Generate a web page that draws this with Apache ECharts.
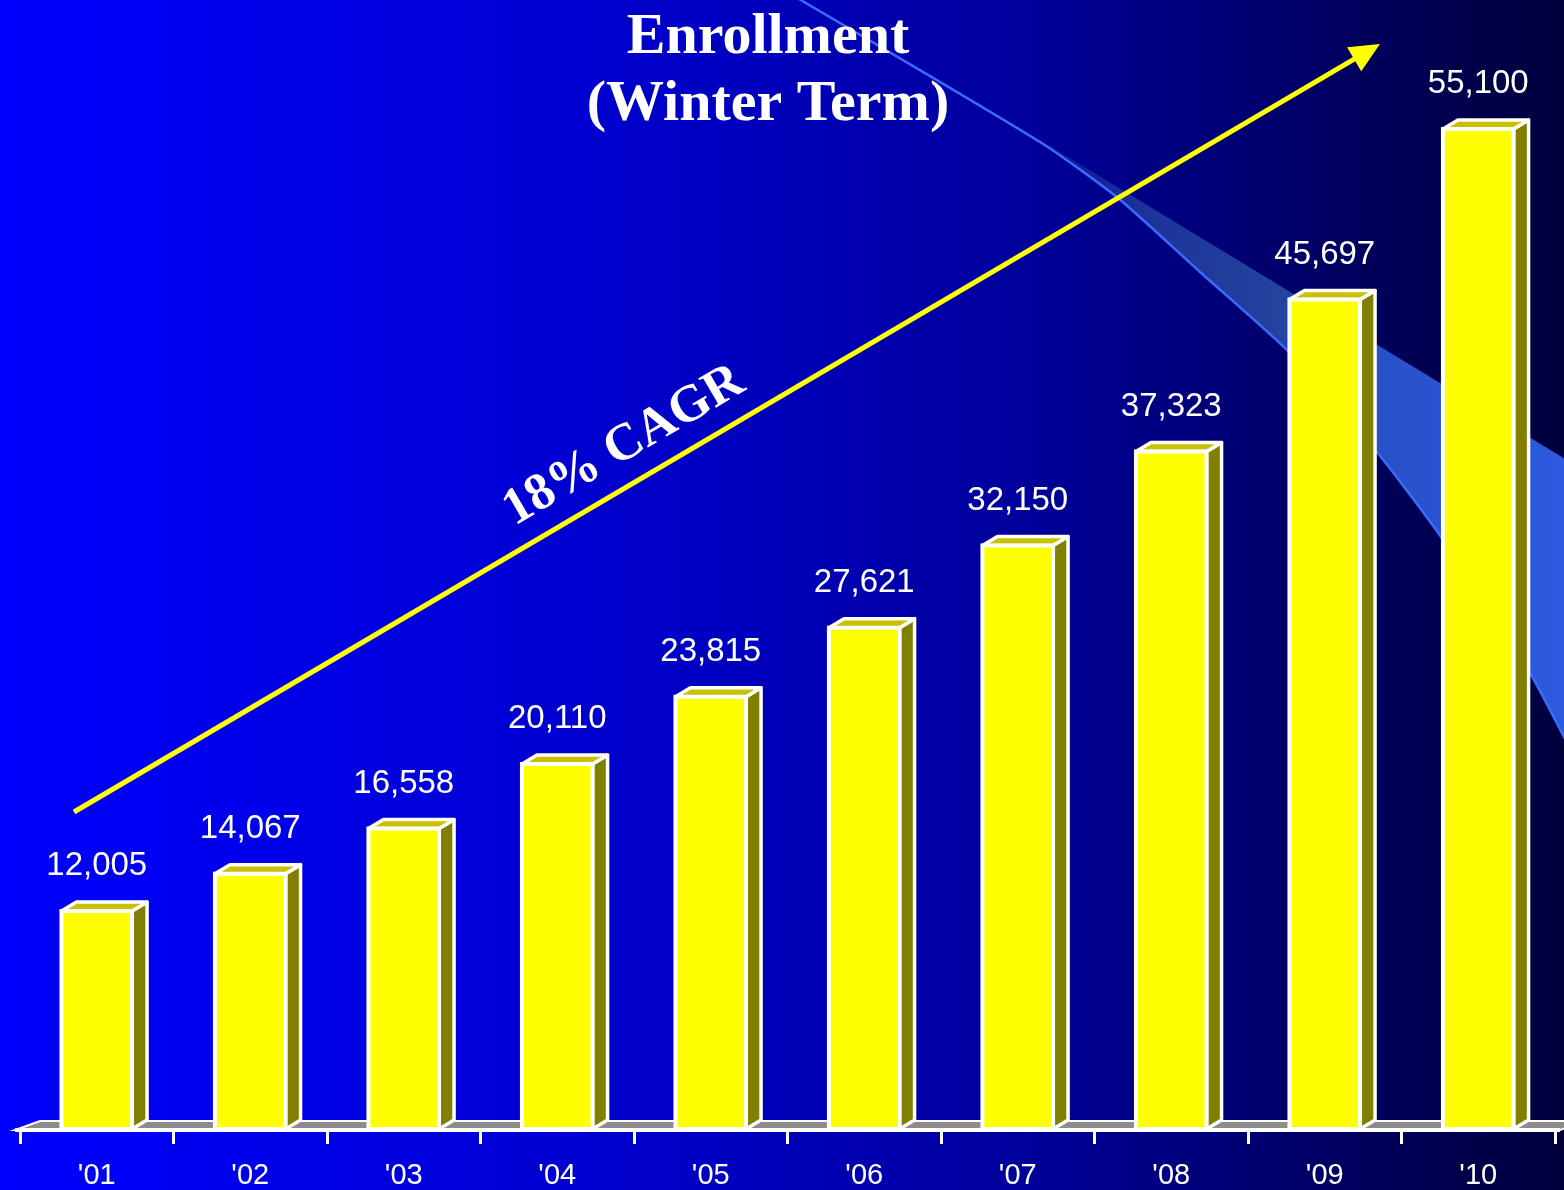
<!DOCTYPE html>
<html>
<head>
<meta charset="utf-8">
<title>Enrollment (Winter Term)</title>
<script src="https://cdn.jsdelivr.net/npm/echarts@6/dist/echarts.min.js"></script>
<style>
  html, body { margin: 0; padding: 0; background: #0000c0; }
  #chart { width: 1564px; height: 1190px; }
</style>
</head>
<body>
<div id="chart"></div>
<script>
// School years and winter-term enrollment counts
const years = ["'01", "'02", "'03", "'04", "'05", "'06", "'07", "'08", "'09", "'10"];
const enrollment = [12005, 14067, 16558, 20110, 23815, 27621, 32150, 37323, 45697, 55100];
const growthLabel = '18% CAGR';

const chart = echarts.init(document.getElementById('chart'), null, { renderer: 'canvas' });

const fmt = v => Number(v).toLocaleString('en-US');

// 3-D column: front face, right side and top face, with a white edge
const DX = 15, DY = -9;
function renderBar(params, api) {
  const i = api.value(0);
  const v = api.value(1);
  const top = api.coord([i, v]);
  const base = api.coord([i, 0]);
  const w = api.size([1, 0])[0] * 0.46;
  const xl = top[0] - w / 2, xr = top[0] + w / 2;
  const edge = { stroke: '#ffffff', lineWidth: 3.5, lineJoin: 'round' };
  return {
    type: 'group',
    children: [
      { type: 'polygon',
        shape: { points: [[xr, top[1]], [xr + DX, top[1] + DY], [xr + DX, base[1] + DY], [xr, base[1]]] },
        style: Object.assign({ fill: '#807f00' }, edge) },
      { type: 'polygon',
        shape: { points: [[xl, top[1]], [xl + DX, top[1] + DY], [xr + DX, top[1] + DY], [xr, top[1]]] },
        style: Object.assign({ fill: '#c8c000' }, edge) },
      { type: 'rect',
        shape: { x: xl, y: top[1], width: w, height: base[1] - top[1] },
        style: { fill: '#ffff00', stroke: '#ffffff', lineWidth: 4 } },
      { type: 'text',
        x: top[0], y: top[1] - 45,
        style: { text: fmt(v), fill: '#ffffff', font: '33px "Liberation Sans", Arial, sans-serif',
                 align: 'center', verticalAlign: 'middle' } }
    ]
  };
}

// decorative swoosh in the upper right
const swooshLower = [[1040, 142], [1118, 198], [1200, 272], [1290, 353], [1377, 452],
                     [1441, 537], [1530, 673], [1564, 737], [1590, 790]];
const swooshBand = [[1040, 140], [1590, 474]].concat(swooshLower.slice().reverse());
const swooshLine = [[770, -18]].concat(swooshLower);

// growth arrow
const arrowFrom = [74, 812], arrowTo = [1380, 44];
const ax = arrowTo[0] - arrowFrom[0], ay = arrowTo[1] - arrowFrom[1];
const alen = Math.hypot(ax, ay);
const ux = ax / alen, uy = ay / alen;
const headLen = 30, headHalf = 14;
const hb = [arrowTo[0] - ux * headLen, arrowTo[1] - uy * headLen];
const angle = Math.atan2(-ay, ax);

const option = {
  backgroundColor: {
    type: 'linear', x: 0, y: 0, x2: 1, y2: 0,
    colorStops: [
      { offset: 0, color: '#0000ff' },
      { offset: 0.4, color: '#0000cc' },
      { offset: 0.66, color: '#00009a' },
      { offset: 0.88, color: '#00005a' },
      { offset: 1, color: '#00003c' }
    ]
  },
  animation: false,
  title: {
    text: 'Enrollment\n(Winter Term)',
    left: 768, top: 5, padding: 0,
    textAlign: 'center',
    textStyle: {
      color: '#ffffff', fontSize: 58, fontWeight: 'bold', lineHeight: 67,
      fontFamily: '"Liberation Serif", "Times New Roman", serif'
    }
  },
  grid: { left: 20, right: 9, top: 40, bottom: 60 },
  xAxis: {
    type: 'category',
    data: years,
    axisLine: { show: false },
    axisTick: { show: true, length: 15, lineStyle: { color: '#ffffff', width: 3 } },
    axisLabel: {
      color: '#ffffff', fontSize: 29, margin: 32,
      fontFamily: '"Liberation Sans", Arial, sans-serif'
    },
    splitLine: { show: false }
  },
  yAxis: { type: 'value', min: 0, max: 60000, show: false, splitLine: { show: false } },
  graphic: [
    { type: 'polygon', shape: { points: swooshBand },
      style: { fill: { type: 'linear', x: 0, y: 0, x2: 1, y2: 0, colorStops: [
        { offset: 0, color: 'rgba(40,70,170,0.25)' },
        { offset: 0.2, color: 'rgba(35,65,160,0.8)' },
        { offset: 0.45, color: '#24449f' },
        { offset: 0.62, color: '#2850c8' },
        { offset: 1, color: '#2e5ce2' } ] } } },
    { type: 'polyline', shape: { points: swooshLine, smooth: 0.2 },
      style: { stroke: '#3a6bff', lineWidth: 2.5, fill: null } },
    { type: 'line',
      shape: { x1: arrowFrom[0], y1: arrowFrom[1], x2: hb[0] + ux * 2, y2: hb[1] + uy * 2 },
      style: { stroke: '#ffff00', lineWidth: 5 } },
    { type: 'polygon',
      shape: { points: [arrowTo,
        [hb[0] - uy * headHalf, hb[1] + ux * headHalf],
        [hb[0] + uy * headHalf, hb[1] - ux * headHalf]] },
      style: { fill: '#ffff00' } },
    { type: 'text', x: 624, y: 446, rotation: angle,
      style: { text: growthLabel, fill: '#ffffff', align: 'center', verticalAlign: 'middle',
               font: 'bold 52px "Liberation Serif", "Times New Roman", serif' } },
    // 3-D floor under the columns
    { type: 'polygon', shape: { points: [[15, 1130], [1560, 1130], [1585, 1121], [40, 1121]] },
      style: { fill: '#8c8c8c', stroke: '#ffffff', lineWidth: 2 } },
    { type: 'line', shape: { x1: 15, y1: 1130, x2: 1560, y2: 1130 },
      style: { stroke: '#ffffff', lineWidth: 4 } }
  ],
  series: [{
    type: 'custom',
    name: 'Enrollment',
    renderItem: renderBar,
    data: enrollment.map((v, i) => [i, v]),
    encode: { x: 0, y: 1 },
    z: 5,
    clip: false
  }]
};

chart.setOption(option);
</script>
</body>
</html>
